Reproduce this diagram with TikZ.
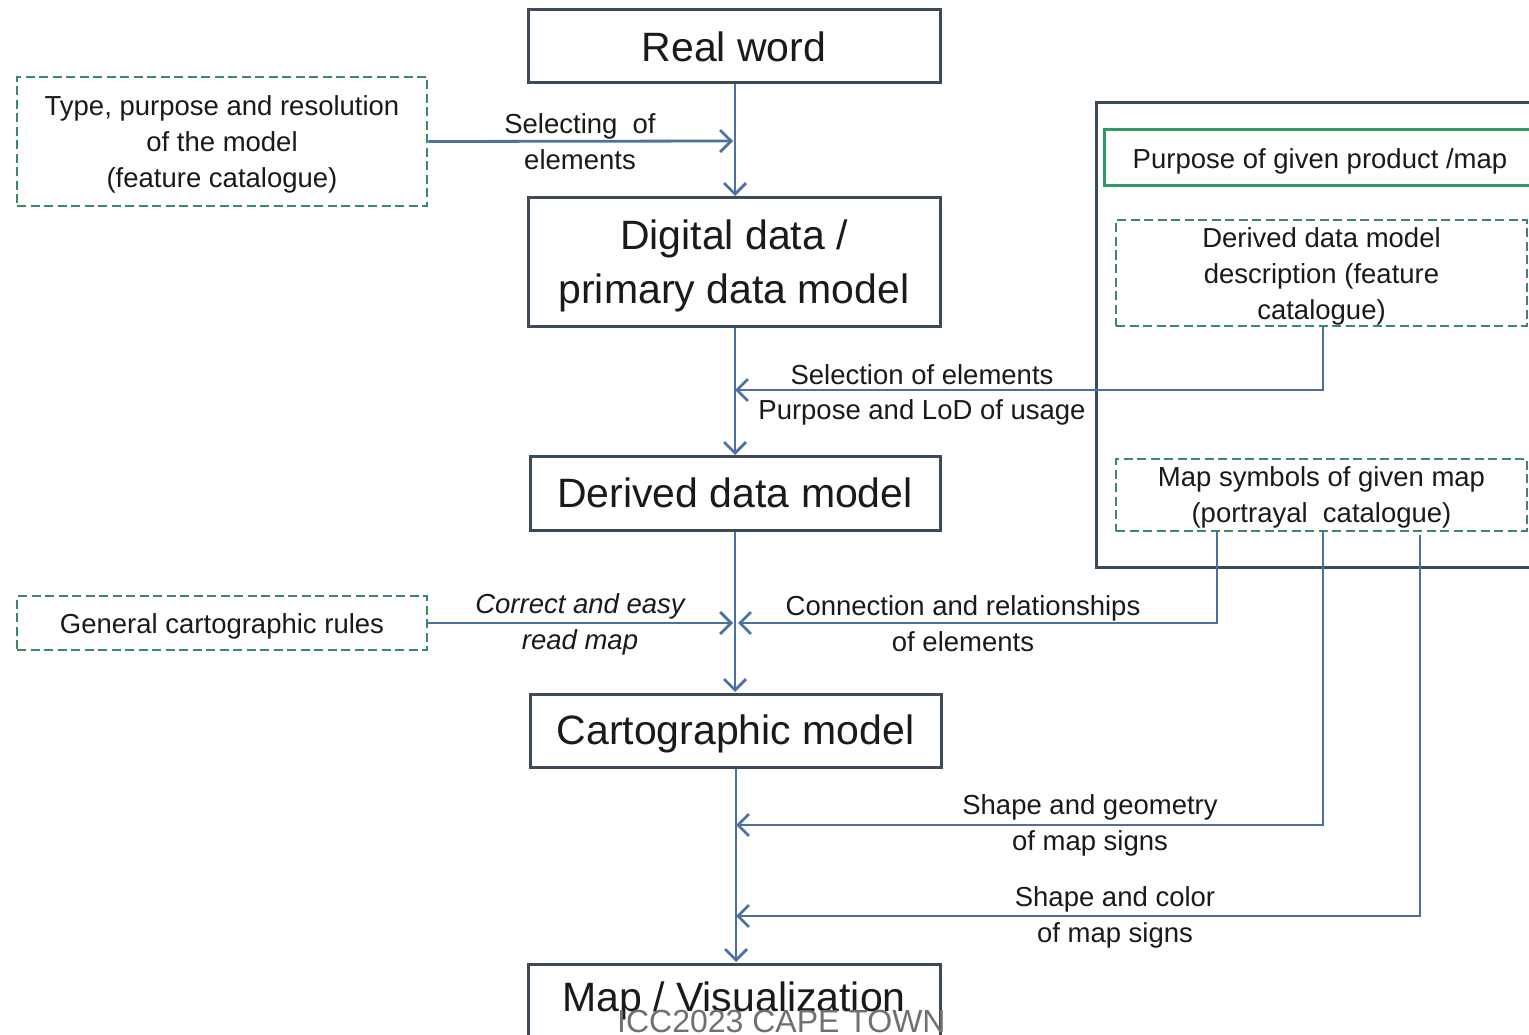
\documentclass[tikz,border=0pt]{standalone}
\usepackage{fontspec}
\setmainfont{Liberation Sans}
\usetikzlibrary{arrows.meta}
\definecolor{boxline}{HTML}{3D4A5A}
\definecolor{arrowblue}{HTML}{4D70A3}
\definecolor{dashgreen}{HTML}{3A8A60}
\definecolor{solidgreen}{HTML}{2E9A68}
\definecolor{txt}{HTML}{1A1A1A}
\definecolor{wm}{HTML}{707070}
\tikzset{
  bigfont/.style={font=\fontsize{41}{54}\selectfont},
  smallfont/.style={font=\fontsize{27.5}{36}\selectfont},
  mainbox/.style={draw=boxline, line width=3pt, inner sep=0pt},
  dbox/.style={draw=dashgreen, line width=2.8pt, dash pattern=on 9pt off 4.5pt, inner sep=0pt},
  lbl/.style={text=txt, smallfont, align=center, inner sep=0pt},
  blbl/.style={text=txt, bigfont, align=center, inner sep=0pt},
  conn/.style={draw=arrowblue, line width=2.8pt, -{Straight Barb[length=11pt,width=22pt,line width=2.8pt]}}
}
\begin{document}
\begin{tikzpicture}[x=1pt,y=-1pt]
\clip (0,0) rectangle (1529,1035);
\fill[white] (0,0) rectangle (1529,1035);

% right panel
\node[draw=boxline, line width=3pt, minimum width=464pt, minimum height=464pt, inner sep=0pt] (panel) at (1328,335) {};
\node[draw=solidgreen, line width=3pt, minimum width=432pt, minimum height=56pt, inner sep=0pt,
  label={[lbl,yshift=-3pt]center:{Purpose of given product /map}}] (purpose) at (1320,158) {};
\node[dbox, minimum width=411pt, minimum height=106pt,
  label={[lbl,yshift=-3pt]center:{Derived data model\\description (feature\\catalogue)}}] (ddesc) at (1321.5,273) {};
\node[dbox, minimum width=411pt, minimum height=72pt,
  label={[lbl,yshift=-2pt]center:{Map symbols of given map\\(portrayal\ \ catalogue)}}] (msym) at (1321.5,495) {};

% main chain
\node[mainbox, minimum width=412pt, minimum height=73pt,
  label={[blbl]center:{Real word}}] (real) at (734,46.5) {};
\node[mainbox, minimum width=412pt, minimum height=128pt,
  label={[blbl,yshift=-4pt]center:{Digital data /\\primary data model}}] (digital) at (734,262) {};
\node[mainbox, minimum width=410pt, minimum height=74pt,
  label={[blbl]center:{Derived data model}}] (derived) at (735,493) {};
\node[mainbox, minimum width=411pt, minimum height=73pt,
  label={[blbl,yshift=-3pt]center:{Cartographic model}}] (carto) at (735.5,730.5) {};
\node[mainbox, minimum width=412pt, minimum height=76pt,
  label={[blbl,yshift=1pt]center:{Map / Visualization}}] (mapvis) at (734,1002) {};

% left boxes
\node[dbox, minimum width=410pt, minimum height=129pt,
  label={[lbl,yshift=-3pt]center:{Type, purpose and resolution\\of the model\\(feature catalogue)}}] (type) at (222,141.5) {};
\node[dbox, minimum width=410pt, minimum height=54pt,
  label={[lbl,yshift=-3pt]center:{General cartographic rules}}] (general) at (222,623) {};

% junctions
\coordinate (j1) at (733,141);
\coordinate (j2) at (735,390);
\coordinate (j3l) at (733,623);
\coordinate (j3r) at (738,623);
\coordinate (j4) at (736,825);
\coordinate (j5) at (736,916);
\coordinate (s1) at (1217,531);
\coordinate (s2) at (1323,531);
\coordinate (s3) at (1420,535);

% main vertical arrows
\draw[conn] (real.south -| 735,0) -- (735,196);
\draw[conn] (digital.south -| 735,0) -- (735,455);
\draw[conn] (derived.south -| 735,0) -- (735,692);
\draw[conn] (carto.south -| 736,0) -- (736,962);

% side arrows
\draw[conn] (type.east) -- (j1);
\draw[conn] (ddesc.south -| s2) |- (j2);
\draw[conn] (general.east) -- (j3l);
\draw[conn] (s1) |- (j3r);
\draw[conn] (s2) |- (j4);
\draw[conn] (s3) |- (j5);

% labels
\node[lbl] (l1) at (580,142) {Selecting\ \ of\\elements};
\node[lbl] (l2) at (922,375) {Selection of elements};
\node[lbl] (l3) at (922,412) {Purpose and LoD of usage};
\node[lbl, font=\fontsize{27.5}{36}\selectfont\itshape] (l4) at (580,624) {Correct and easy\\read map};
\node[lbl] (l5) at (963,624) {Connection and relationships\\of elements};
\node[lbl] (l6) at (1090,825) {Shape and geometry\\of map signs};
\node[lbl] (l7) at (1115,917) {Shape and color\\of map signs};

% watermark
\node[anchor=base west, inner sep=0pt, text=wm, font=\fontsize{32}{36}\selectfont] (wmark) at (617,1032) {ICC2023 CAPE TOWN};
\end{tikzpicture}
\end{document}
